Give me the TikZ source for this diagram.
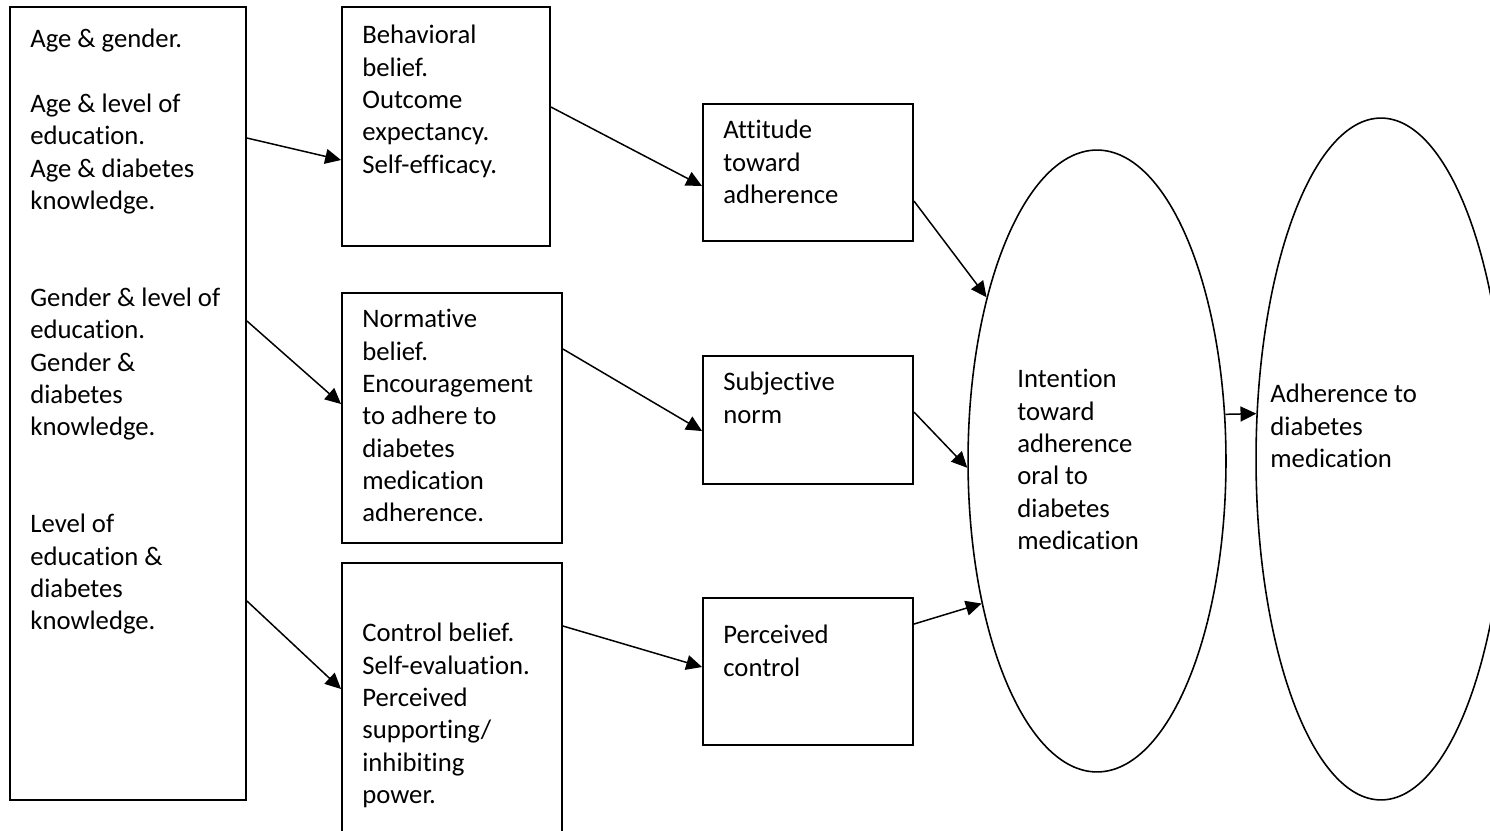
\documentclass[tikz,border=0pt]{standalone}
\usepackage{fontspec}
\setmainfont{Carlito}[Ligatures=NoCommon]
\usetikzlibrary{arrows.meta,calc,fit,shapes.geometric}

\begin{document}
\begin{tikzpicture}[x=0.02cm, y=-0.02cm,
            box/.style={draw, line width=1.1pt, inner sep=0pt},
            oval/.style={draw, ellipse, line width=0.9pt, inner sep=0pt},
            txt/.style={anchor=north west, align=left, inner sep=0pt,
                        font=\fontsize{15.2}{18.4}\selectfont},
            arr/.style={-{Triangle[length=9pt,width=8.5pt]}, line width=0.85pt}]
        \useasboundingbox (0,0) rectangle (1490,831);

        % boxes
        \node[box, fit={(10,7) (246,800)}] (demo) {};
        \node[box, fit={(342,7) (550,246)}] (behav) {};
        \node[box, fit={(342,293) (562,543)}] (norm) {};
        \node[box, fit={(342,563) (562,840)}] (ctrl) {};
        \node[box, fit={(703,104) (913,241)}] (attit) {};
        \node[box, fit={(703,356) (913,484)}] (subj) {};
        \node[box, fit={(703,598) (913,745)}] (perc) {};
        \node[oval, minimum width=5.16cm, minimum height=12.44cm] (intent) at (1097,461) {};
        \node[oval, minimum width=5cm, minimum height=13.64cm] (adher) at (1381,459) {};

        % texts
        \node[txt] (demotxt) at (30,29) {Age \& gender.\\[18.4pt]
            Age \& level of\\ education.\\ Age \& diabetes\\ knowledge.\\[36.8pt]
            Gender \& level of\\ education.\\ Gender \&\\ diabetes\\ knowledge.\\[36.8pt]
            Level of\\ education \&\\ diabetes\\ knowledge.};
        \node[txt] (behavtxt) at (362,25) {Behavioral\\ belief.\\ Outcome\\ expectancy.\\ Self-efficacy.};
        \node[txt] (normtxt) at (362,309) {Normative\\ belief.\\ Encouragement\\ to adhere to\\ diabetes\\ medication\\ adherence.};
        \node[txt] (ctrltxt) at (362,623) {Control belief.\\ Self-evaluation.\\ Perceived\\ supporting/\\ inhibiting\\ power.};
        \node[txt] (attittxt) at (723,120) {Attitude\\ toward\\ adherence};
        \node[txt] (subjtxt) at (723,372) {Subjective\\ norm};
        \node[txt] (perctxt) at (723,625) {Perceived\\ control};
        \node[txt] (intenttxt) at (1017,369) {Intention\\ toward\\ adherence\\ oral to\\ diabetes\\ medication};
        \node[txt] (adhertxt) at (1270,384) {Adherence to\\ diabetes\\ medication};

        % connectors
        \draw[arr] ($(demo.north east)+(0,132)$) -- ($(behav.north west)+(0,154)$);
        \draw[arr] ($(demo.north east)+(0,315)$) -- ($(norm.north west)+(0,112)$);
        \draw[arr] ($(demo.north east)+(0,595)$) -- ($(ctrl.north west)+(0,127)$);
        \draw[arr] ($(behav.north east)+(0,101)$) -- ($(attit.north west)+(0,83)$);
        \draw[arr] ($(norm.north east)+(0,57)$) -- ($(subj.north west)+(0,76)$);
        \draw[arr] ($(ctrl.north east)+(0,64)$) -- ($(perc.north west)+(0,70)$);
        \draw[arr] ($(attit.north east)+(0,98)$) -- (intent.124);
        \draw[arr] ($(subj.north east)+(0,57)$) -- (intent.183);
        \draw[arr] ($(perc.north east)+(0,27)$) -- (intent.231);
        \draw[arr] (intent.20) -- (adher.160);
\end{tikzpicture}
\end{document}
